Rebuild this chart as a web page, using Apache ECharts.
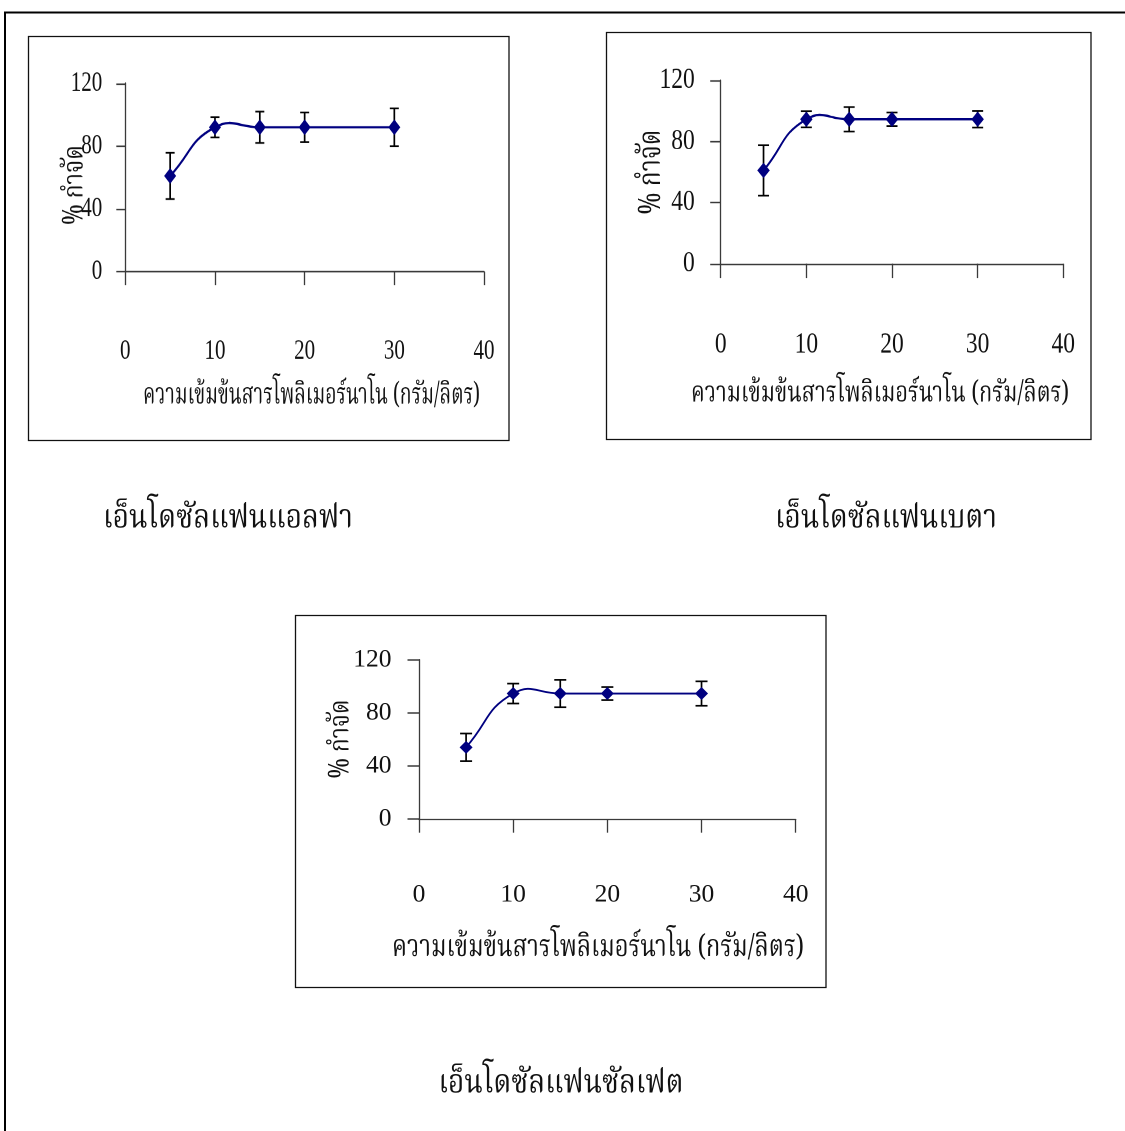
<!DOCTYPE html>
<html>
<head>
<meta charset="utf-8">
<script src="https://cdn.jsdelivr.net/npm/echarts@6/dist/echarts.min.js"></script>
<style>
  html, body { margin: 0; padding: 0; background: #ffffff; }
  #page { position: absolute; left: 0; top: 0; width: 1125px; height: 1131px; }
  .panel { position: absolute; transform-origin: 0 0; }
</style>
</head>
<body>
<div id="page"></div>
<div id="alpha" class="panel"></div>
<div id="beta" class="panel"></div>
<div id="sulfate" class="panel"></div>
<script>
// Polymer nanoparticle concentration (g/L) used in every experiment
const concentrations = [5, 10, 15, 20, 30];

// Removal (%) and error bar half-widths for each endosulfan form
const alphaRemoval = [61, 92, 92, 92, 92];
const alphaError = [14.7, 6.5, 10, 9.4, 12];
const betaRemoval = [61, 94.5, 94.5, 94.5, 94.5];
const betaError = [16.5, 5.3, 8, 4.4, 5.4];
const sulfateRemoval = [54, 94.5, 94.5, 94.5, 94.5];
const sulfateError = [10.4, 7.5, 10.3, 4.9, 9.2];

// Axis ranges and tick spacing
const xTicks = [0, 10, 20, 30, 40];
const yTicks = [0, 40, 80, 120];

// Texts
const xTitle = 'ความเข้มข้นสารโพลิเมอร์นาโน (กรัม/ลิตร)';
const yTitle = '% กำจัด';
const captions = ['เอ็นโดซัลแฟนแอลฟา', 'เอ็นโดซัลแฟนเบตา', 'เอ็นโดซัลแฟนซัลเฟต'];

const THAI_FONT = "'Noto Serif Thai', 'Noto Sans Thai Looped', 'Norasi', 'Laksaman', 'Garuda', 'Loma', 'Noto Sans Thai', 'DejaVu Sans', sans-serif";
const NUM_FONT = "'Liberation Serif', 'Times New Roman', serif";
const LINE_COLOR = '#000080';

const measureCtx = document.createElement('canvas').getContext('2d');
function textWidth(text, size, family) {
  measureCtx.font = size + 'px ' + family;
  return measureCtx.measureText(text).width;
}

// Layout of each framed panel, in page pixels
const panels = [
  {
    id: 'alpha', values: alphaRemoval, errors: alphaError,
    box: { x: 28, y: 36, w: 482, h: 406 }, sy: 1.32,
    plot: { x0: 125.3, x1: 484, y0: 83.3, y1: 271.7 },
    font: 21, yLabelGap: 23, xLabelY: 353,
    xName: { x: 311.5, y: 399, w: 337, size: 22.5 },
    yName: { x: 78, y: 185, len: 80, size: 28 },
    tickX: 13.3, tickY: 9, cap: 4.5, symbol: 12
  },
  {
    id: 'beta', values: betaRemoval, errors: betaError,
    box: { x: 606, y: 32, w: 486, h: 409 }, sy: 1.24,
    plot: { x0: 720.7, x1: 1063.3, y0: 80.3, y1: 263.7 },
    font: 23.5, yLabelGap: 26, xLabelY: 346,
    xName: { x: 880, y: 397, w: 378, size: 23.5 },
    yName: { x: 655, y: 172, len: 85, size: 31 },
    tickX: 14.5, tickY: 10.5, cap: 5.5, symbol: 12.5
  },
  {
    id: 'sulfate', values: sulfateRemoval, errors: sulfateError,
    box: { x: 295, y: 615, w: 532, h: 374 }, sy: 1,
    plot: { x0: 419, x1: 795.7, y0: 659.7, y1: 819 },
    font: 25.5, yLabelGap: 27.5, xLabelY: 896,
    xName: { x: 598, y: 951, w: 412, size: 30 },
    yName: { x: 344, y: 739, len: 79, size: 28 },
    tickX: 13.7, tickY: 11.5, cap: 6, symbol: 13
  }
];

// Smoothed path segment i -> i+1 (tangent along neighbours, length split by segment lengths)
function smoothSegment(pts, i, sy) {
  const n = pts.length;
  const at = k => pts[Math.max(0, Math.min(n - 1, k))];
  const dist = (a, b) => Math.hypot(b[0] - a[0], (b[1] - a[1]) * sy);
  const tangent = k => {
    const prev = at(k - 1), cur = at(k), next = at(k + 1);
    const d0 = dist(prev, cur), d1 = dist(cur, next);
    const v = [next[0] - prev[0], next[1] - prev[1]];
    const s = 0.5;
    return {
      out: [cur[0] + v[0] * s * d1 / (d0 + d1), cur[1] + v[1] * s * d1 / (d0 + d1)],
      inn: [cur[0] - v[0] * s * d0 / (d0 + d1), cur[1] - v[1] * s * d0 / (d0 + d1)]
    };
  };
  const a = at(i), b = at(i + 1);
  const c1 = tangent(i).out, c2 = tangent(i + 1).inn;
  return { x1: a[0], y1: a[1], cpx1: c1[0], cpy1: c1[1], cpx2: c2[0], cpy2: c2[1], x2: b[0], y2: b[1] };
}

function buildPanel(p) {
  const sy = p.sy;
  const el = document.getElementById(p.id);
  const hLocal = p.box.h / sy;
  el.style.left = p.box.x + 'px';
  el.style.top = p.box.y + 'px';
  el.style.width = p.box.w + 'px';
  el.style.height = hLocal + 'px';
  el.style.transform = 'scaleY(' + sy + ')';

  const lx = v => v - p.box.x;
  const ly = v => (v - p.box.y) / sy;

  const gridTop = ly(p.plot.y0);
  const gridHeight = (p.plot.y1 - p.plot.y0) / sy;
  const xMargin = (p.xLabelY - p.plot.y1) / sy - p.font * 0.55;

  const xNameW = textWidth(xTitle, p.xName.size, THAI_FONT);
  const yNameW = textWidth(yTitle, p.yName.size, THAI_FONT);

  const errorData = concentrations.map((c, i) => [c, p.values[i] - p.errors[i], p.values[i] + p.errors[i]]);
  const pointData = concentrations.map((c, i) => [c, p.values[i]]);

  const chart = echarts.init(el, null, { renderer: 'canvas', devicePixelRatio: 2 });
  chart.setOption({
    animation: false,
    backgroundColor: 'transparent',
    grid: {
      left: lx(p.plot.x0), top: gridTop,
      width: p.plot.x1 - p.plot.x0, height: gridHeight,
      containLabel: false
    },
    xAxis: {
      type: 'value', min: xTicks[0], max: xTicks[xTicks.length - 1],
      interval: xTicks[1] - xTicks[0],
      axisLine: { show: true, onZero: false, lineStyle: { color: '#3a3a3a', width: 1.3 } },
      axisTick: { show: true, inside: false, length: p.tickX / sy, lineStyle: { color: '#3a3a3a', width: 1.3 } },
      axisLabel: { show: true, margin: xMargin, color: '#111', fontFamily: NUM_FONT, fontSize: p.font },
      splitLine: { show: false }
    },
    yAxis: {
      type: 'value', min: yTicks[0], max: yTicks[yTicks.length - 1],
      interval: yTicks[1] - yTicks[0],
      axisLine: { show: true, onZero: false, lineStyle: { color: '#3a3a3a', width: 1.3 } },
      axisTick: { show: true, inside: false, length: p.tickY, lineStyle: { color: '#3a3a3a', width: 1.3 / sy + 0.2 } },
      axisLabel: { show: true, margin: p.yLabelGap, color: '#111', fontFamily: NUM_FONT, fontSize: p.font },
      splitLine: { show: false }
    },
    graphic: [
      {
        type: 'text', x: lx(p.xName.x), y: ly(p.xName.y),
        scaleX: p.xName.w / xNameW,
        style: { text: xTitle, fontFamily: THAI_FONT, fontSize: p.xName.size, fill: '#111', align: 'center', verticalAlign: 'middle' }
      },
      {
        type: 'text', x: lx(p.yName.x), y: ly(p.yName.y), rotation: Math.PI / 2,
        scaleX: (p.yName.len / sy) / yNameW,
        style: { text: yTitle, fontFamily: THAI_FONT, fontSize: p.yName.size, fill: '#111', align: 'center', verticalAlign: 'middle' }
      }
    ],
    series: [
      {
        // error bars
        type: 'custom',
        z: 2,
        data: errorData,
        encode: { x: 0, y: [1, 2] },
        renderItem: function (params, api) {
          const x = api.value(0);
          const top = api.coord([x, api.value(2)]);
          const bot = api.coord([x, api.value(1)]);
          const stroke = { stroke: '#000', lineWidth: 1.7 };
          const capStroke = { stroke: '#000', lineWidth: 1.7 / sy };
          return {
            type: 'group',
            children: [
              { type: 'line', shape: { x1: top[0], y1: top[1], x2: bot[0], y2: bot[1] }, style: stroke },
              { type: 'line', shape: { x1: top[0] - p.cap, y1: top[1], x2: top[0] + p.cap, y2: top[1] }, style: capStroke },
              { type: 'line', shape: { x1: bot[0] - p.cap, y1: bot[1], x2: bot[0] + p.cap, y2: bot[1] }, style: capStroke }
            ]
          };
        }
      },
      {
        // smoothed connecting curve, one bezier segment per point
        type: 'custom',
        z: 3,
        data: pointData,
        encode: { x: 0, y: 1 },
        renderItem: function (params, api) {
          const i = params.dataIndex;
          if (i >= pointData.length - 1) return null;
          const pts = pointData.map(d => api.coord(d));
          return {
            type: 'bezierCurve',
            shape: smoothSegment(pts, i, sy),
            style: { stroke: LINE_COLOR, lineWidth: 1.8, fill: null }
          };
        }
      },
      {
        type: 'scatter',
        z: 4,
        data: pointData,
        symbol: 'diamond',
        symbolSize: p.symbol,
        itemStyle: { color: LINE_COLOR, opacity: 1 }
      }
    ]
  });
}

// Page-level layer: document frame, panel frames and panel captions
function buildPage() {
  const chart = echarts.init(document.getElementById('page'), null, { renderer: 'canvas', devicePixelRatio: 2 });
  const captionPos = [
    { x: 228, y: 522, w: 250 },
    { x: 886, y: 522, w: 222 },
    { x: 561, y: 1087, w: 245 }
  ];
  const capSize = 33;
  const elements = [
    { type: 'line', shape: { x1: 4, y1: 12.5, x2: 1125, y2: 12.5 }, style: { stroke: '#000', lineWidth: 2 } },
    { type: 'line', shape: { x1: 5, y1: 12, x2: 5, y2: 1131 }, style: { stroke: '#000', lineWidth: 2 } }
  ];
  panels.forEach(p => {
    elements.push({
      type: 'rect',
      shape: { x: p.box.x + 0.5, y: p.box.y + 0.5, width: p.box.w - 1.5, height: p.box.h - 2 },
      style: { fill: 'none', stroke: '#111', lineWidth: 1.3 }
    });
  });
  captions.forEach((c, i) => {
    const pos = captionPos[i];
    const w = textWidth(c, capSize, THAI_FONT);
    elements.push({
      type: 'text', x: pos.x, y: pos.y, scaleX: pos.w / w,
      style: { text: c, fontFamily: THAI_FONT, fontSize: capSize, fill: '#111', align: 'center', verticalAlign: 'middle' }
    });
  });
  chart.setOption({ animation: false, graphic: elements });
}

buildPage();
panels.forEach(buildPanel);
</script>
</body>
</html>
